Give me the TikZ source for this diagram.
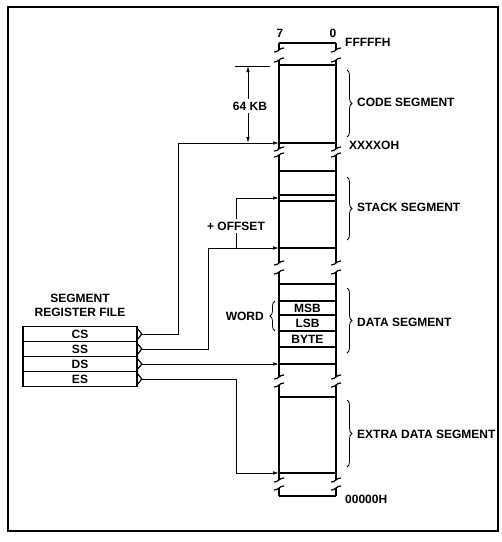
\documentclass[tikz,border=0pt]{standalone}
\usepackage{fontspec}
\setmainfont{Liberation Sans}
\usetikzlibrary{arrows.meta,decorations.pathreplacing}

% break mark on a column edge
\newcommand{\brk}[2]{\draw[line width=1.2pt] (#1-5,#2+2) .. controls (#1-1,#2+2.5) and (#1+1,#2-2.5) .. (#1+5,#2-2);}

\begin{document}
\begin{tikzpicture}[
  x=1pt,y=-1pt,
  mem/.style={line width=1.6pt},
  conn/.style={line width=0.8pt,-{Latex[length=6pt,width=3.5pt]}},
  lbl/.style={inner sep=0pt,font=\bfseries\fontsize{12}{14}\selectfont},
  reg/.style={draw,line width=1.6pt,minimum width=114pt,minimum height=15pt,
    inner sep=0pt,font=\bfseries\fontsize{12}{14}\selectfont},
  segbrace/.style={decorate,decoration={brace,amplitude=5pt},line width=0.8pt}
]
  \useasboundingbox (0,0) rectangle (502,542);
  \draw[line width=2.5pt] (8,7) rectangle (498,531);

  % memory column
  \foreach \a/\b in {43/50,60/149,155/263,272/377,385/480,488/496}
    \draw[mem] (279,\a) -- (279,\b) (336,\a) -- (336,\b);
  \foreach \h in {43,65,143,171,195,201,248,284,301,315,331,347,364,397,473,496}
    \draw[mem] (279,\h) -- (336,\h);
  \foreach \y in {50,60,149,155,263,272,377,385,480,488}
    {\brk{279}{\y} \brk{336}{\y}}

  \node[lbl] (bit7) at (280,33) {7};
  \node[lbl] (bit0) at (333,33) {0};
  \node[lbl,anchor=west] (top) at (345,42) {FFFFFH};
  \node[lbl,anchor=west] (base) at (349,145) {XXXXOH};
  \node[lbl,anchor=west] (bot) at (345,499) {00000H};

  \node[lbl] (msb) at (307.5,308) {MSB};
  \node[lbl] (lsb) at (307.5,323) {LSB};
  \node[lbl] (byte) at (307.5,339) {BYTE};
  \node[lbl,anchor=east] (word) at (264,316) {WORD};
  \draw[segbrace] (275,331) -- (275,301);

  % segment braces
  \draw[segbrace] (347,70) -- (347,137);
  \draw[segbrace] (347,177) -- (347,240);
  \draw[segbrace] (347,288) -- (347,353);
  \draw[segbrace] (347,400) -- (347,467);
  \node[lbl,anchor=west] (code) at (357,102) {CODE SEGMENT};
  \node[lbl,anchor=west] (stack) at (357,207) {STACK SEGMENT};
  \node[lbl,anchor=west] (data) at (357,322) {DATA SEGMENT};
  \node[lbl,anchor=west] (extra) at (357,434) {EXTRA DATA SEGMENT};

  % 64 KB span
  \coordinate (kbtop) at (248,66);
  \coordinate (kbbot) at (248,143);
  \draw[line width=0.8pt] (235,66) -- (270,66);
  \node[lbl,inner sep=3pt] (kb) at (250,106) {64 KB};
  \draw[conn] (kb.north -| kbtop) -- (kbtop);
  \draw[conn] (kb.south -| kbtop) -- (kbbot);

  % segment register file
  \node[lbl,align=center] (regfile) at (80,305) {SEGMENT\\REGISTER FILE};
  \node[reg] (cs) at (80,334) {CS};
  \node[reg] (ss) at (80,349) {SS};
  \node[reg] (ds) at (80,364) {DS};
  \node[reg] (es) at (80,379) {ES};
  \foreach \r in {cs,ss,ds,es} {
    \draw[line width=1.2pt] ([yshift=5pt]\r.east) -- ([xshift=4pt]\r.east) -- ([yshift=-5pt]\r.east);
    \coordinate (\r out) at ([xshift=4pt]\r.east);
  }

  % targets in the column
  \coordinate (csin) at (279,143);
  \coordinate (ssin) at (279,248);
  \coordinate (offin) at (279,198);
  \coordinate (dsin) at (279,364);
  \coordinate (esin) at (279,473);
  \coordinate (offbr) at (236,248);

  \draw[conn] (csout) -- ++(37,0) |- (csin);
  \draw[conn] (ssout) -- ++(67,0) |- (ssin);
  \draw[conn] (dsout) -- (dsin);
  \draw[conn] (esout) -- ++(95,0) |- (esin);
  \node[lbl,inner sep=3pt] (offset) at (236,226) {+ OFFSET};
  \draw[line width=0.8pt] (offbr) -- (offset.south);
  \draw[conn] (offset.north) |- (offin);
\end{tikzpicture}
\end{document}
